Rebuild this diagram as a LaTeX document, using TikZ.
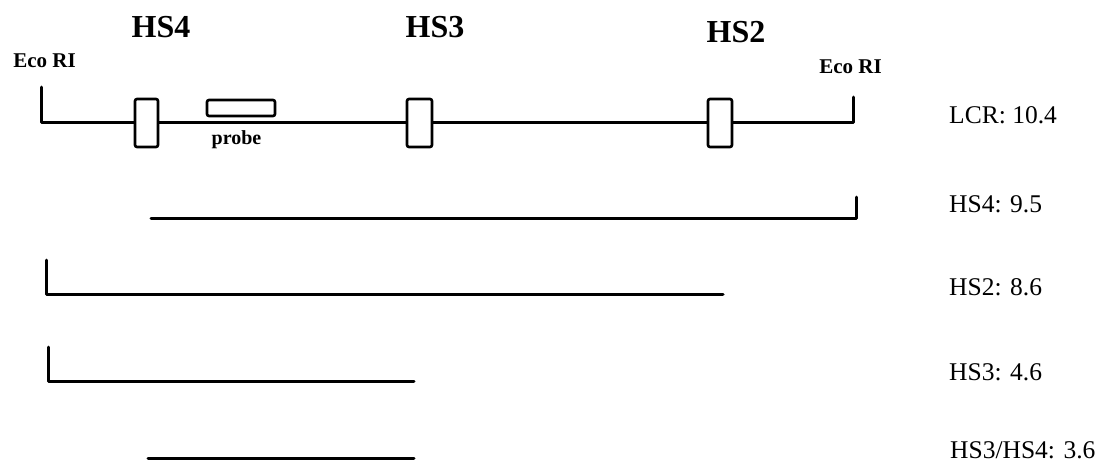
\documentclass[tikz,border=0pt]{standalone}
\usepackage{fontspec}
\setmainfont{Liberation Serif}
\begin{document}
\begin{tikzpicture}[x=1pt,y=-1pt,
  seg/.style={line width=3pt,line cap=round,line join=round},
  site/.style={draw,line width=2.6pt,fill=white,rounded corners=2pt,inner sep=0pt},
  hslabel/.style={anchor=base,font=\fontsize{32}{32}\selectfont\bfseries},
  ecolabel/.style={anchor=base,font=\fontsize{21}{21}\selectfont\bfseries},
  sizelabel/.style={anchor=base west,inner sep=0pt,font=\fontsize{25.5}{26}\selectfont}]
\useasboundingbox (0,0) rectangle (1101,464);

% restriction map of the LCR fragment
\coordinate (eL) at (41,87);
\coordinate (eLb) at (41,122);
\coordinate (eRb) at (853,122);
\coordinate (eR) at (853,97);
\draw[seg] (eL) -- (eLb) -- (eRb) -- (eR);

\node[site,minimum width=23pt,minimum height=48pt] (hs4) at (146.5,123) {};
\node[site,minimum width=25pt,minimum height=48pt] (hs3) at (419.5,123) {};
\node[site,minimum width=24pt,minimum height=48pt] (hs2) at (720,123) {};
\node[site,minimum width=68pt,minimum height=16pt] (probe) at (241,108) {};

\node[anchor=base,font=\fontsize{20}{20}\selectfont\bfseries] (probetxt) at (236.5,144.5) {probe};

\node[hslabel] (l4) at (161,37) {HS4};
\node[hslabel] (l3) at (435,37) {HS3};
\node[hslabel] (l2) at (736,42) {HS2};
\node[ecolabel] (ecoL) at (44.5,67) {Eco RI};
\node[ecolabel] (ecoR) at (850.5,73) {Eco RI};

% fragments detected by the probe
\coordinate (a1) at (151,218);
\coordinate (a2) at (856,218);
\coordinate (a3) at (856,197);
\draw[seg] (a1) -- (a2) -- (a3);

\coordinate (b1) at (46,260);
\coordinate (b2) at (46,294);
\coordinate (b3) at (723,294);
\draw[seg] (b1) -- (b2) -- (b3);

\coordinate (c1) at (48,347);
\coordinate (c2) at (48,381);
\coordinate (c3) at (414,381);
\draw[seg] (c1) -- (c2) -- (c3);

\coordinate (d1) at (148,458);
\coordinate (d2) at (414,458);
\draw[seg] (d1) -- (d2);

% fragment sizes
\node[sizelabel] (sLCR) at (949,123) {LCR: 10.4};
\node[sizelabel] (s4) at (949,212) {HS4: 9.5};
\node[sizelabel] (s2) at (949,295) {HS2: 8.6};
\node[sizelabel] (s3) at (949,380) {HS3: 4.6};
\node[sizelabel] (s34) at (950,458) {HS3/HS4: 3.6};
\end{tikzpicture}
\end{document}
